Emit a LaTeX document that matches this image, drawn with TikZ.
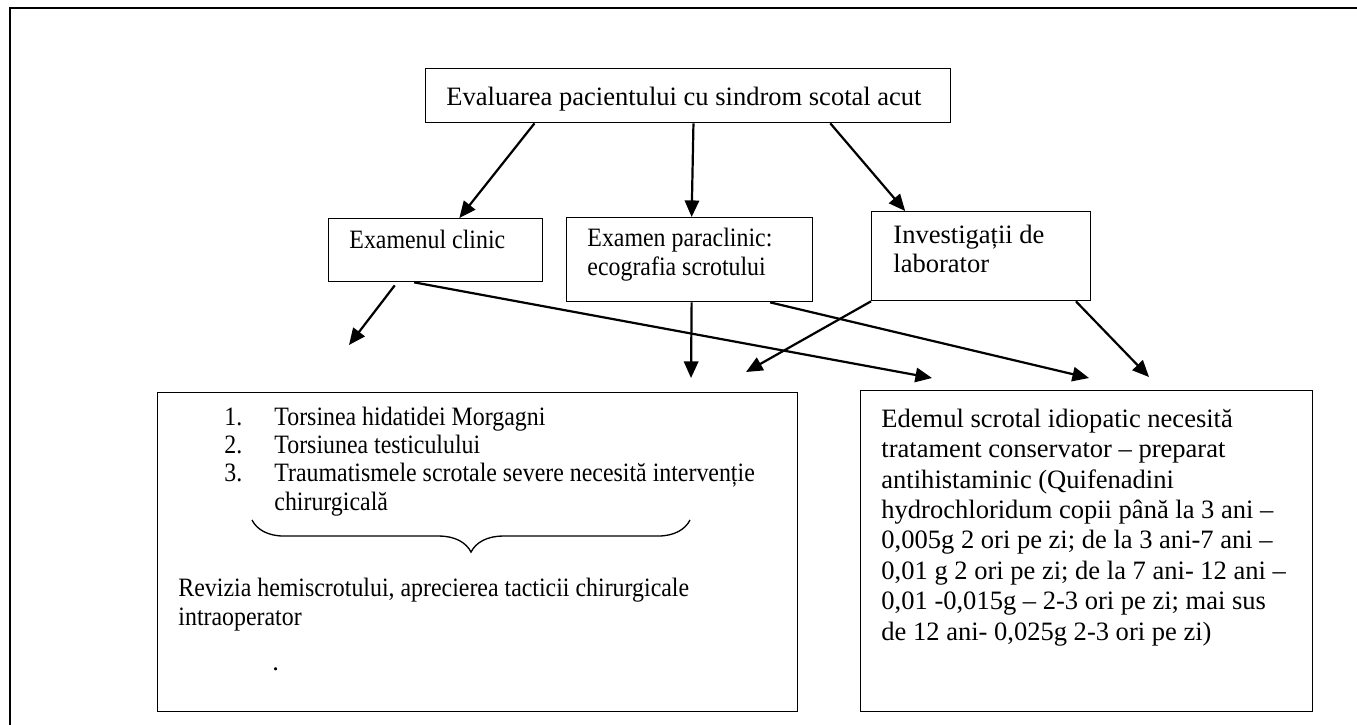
\documentclass[tikz,border=0pt]{standalone}
\usepackage{fontspec}
\setmainfont{Liberation Serif}
\newfontfamily\narrowserif{Liberation Serif}[FakeStretch=0.9]
\usetikzlibrary{calc}
\usetikzlibrary{arrows.meta}
\usetikzlibrary{decorations.pathreplacing}

\begin{document}
\begin{tikzpicture}[x=0.0159cm, y=-0.0159cm]

		\tikzstyle{box} = [draw, line width=0.6pt, inner sep=0pt, anchor=north west]
		\tikzstyle{txt} = [inner sep=0pt, anchor=base west, align=left, font=\fontsize{12}{13.1}\selectfont]
		\tikzstyle{ntxt} = [txt, font=\narrowserif\fontsize{12}{13.1}\selectfont]
		\tikzstyle{arr} = [line width=1pt, -{Triangle[length=7.5pt, width=6.5pt]}]

		\useasboundingbox (0,0) rectangle (1357,724);

		%%Outer frame
		\draw[line width=1.2pt] (10,740) -- (10,8) -- (1370,8);

		%%Boxes
		\node [box, minimum width=8.348cm, minimum height=0.859cm](eval) at (425,68) {};
		\node [box, minimum width=3.403cm, minimum height=1.002cm](clin) at (328,218) {};
		\node [box, minimum width=3.911cm, minimum height=1.336cm](para) at (566,217) {};
		\node [box, minimum width=3.482cm, minimum height=1.415cm](inv) at (871,211) {};
		\node [box, minimum width=10.176cm, minimum height=5.072cm](surg) at (157,392) {};
		\node [box, minimum width=7.187cm, minimum height=5.104cm](cons) at (860,390) {};

		%%Texts of the boxes (base = last line)
		\node [txt](evalT) at (446,105) {Evaluarea pacientului cu sindrom scotal acut};
		\node [ntxt](clinT) at (349,248) {Examenul clinic};
		\node [ntxt](paraT) at (587,275) {Examen paraclinic:\\ecografia scrotului};
		\node [txt](invT) at (893,272) {Investigații de\\laborator};
		\node [ntxt, font=\narrowserif\fontsize{12}{12.8}\selectfont](listT) at (224,510)
			{\makebox[22.6pt][l]{1.}Torsinea hidatidei Morgagni\\
			 \makebox[22.6pt][l]{2.}Torsiunea testiculului\\
			 \makebox[22.6pt][l]{3.}Traumatismele scrotale severe necesită intervenție\\
			 \hspace*{22.6pt}chirurgicală};
		\node [ntxt, font=\narrowserif\fontsize{12}{12.7}\selectfont](revT) at (178,625)
			{Revizia hemiscrotului, aprecierea tacticii chirurgicale\\intraoperator};
		\node [txt](dot) at (272,670) {.};
		\node [txt, font=\fontsize{12}{13.75}\selectfont](consT) at (881,640)
			{Edemul scrotal idiopatic necesită\\
			 tratament conservator – preparat\\
			 antihistaminic (Quifenadini\\
			 hydrochloridum copii până la 3 ani –\\
			 0,005g 2 ori pe zi; de la 3 ani-7 ani –\\
			 0,01 g 2 ori pe zi; de la 7 ani- 12 ani –\\
			 0,01 -0,015g – 2-3 ori pe zi; mai sus\\
			 de 12 ani- 0,025g 2-3 ori pe zi)};

		%%Brace under the list
		\draw[line width=0.6pt, decorate, decoration={brace, amplitude=0.51cm}] (690,520) -- (252,520);

		%%Free ends of the arrows
		\coordinate (clinTip) at (349,345);
		\coordinate (surgA) at (691,378);
		\coordinate (surgB) at (746,372);
		\coordinate (consA) at (932,378);
		\coordinate (consB) at (1089,378);
		\coordinate (consC) at (1149,377);

		%%Arrows
		\draw[arr] ($(eval.south west)!0.208!(eval.south east)$) -- ($(clin.north west)!0.61!(clin.north east)$);
		\draw[arr] ($(eval.south west)!0.51!(eval.south east)$) -- ($(para.north west)!0.508!(para.north east)$);
		\draw[arr] ($(eval.south west)!0.77!(eval.south east)$) -- ($(inv.north west)!0.155!(inv.north east)$);
		\draw[arr] ($(clin.south west)!0.31!(clin.south east)+(0,3)$) -- (clinTip);
		\draw[arr] ($(clin.south west)!0.4!(clin.south east)$) -- (consA);
		\draw[arr] ($(para.south west)!0.508!(para.south east)$) -- (surgA);
		\draw[arr] ($(para.south west)!0.825!(para.south east)$) -- (consB);
		\draw[arr] (inv.south west) -- (surgB);
		\draw[arr] ($(inv.south west)!0.93!(inv.south east)$) -- (consC);
	\end{tikzpicture}
\end{document}
